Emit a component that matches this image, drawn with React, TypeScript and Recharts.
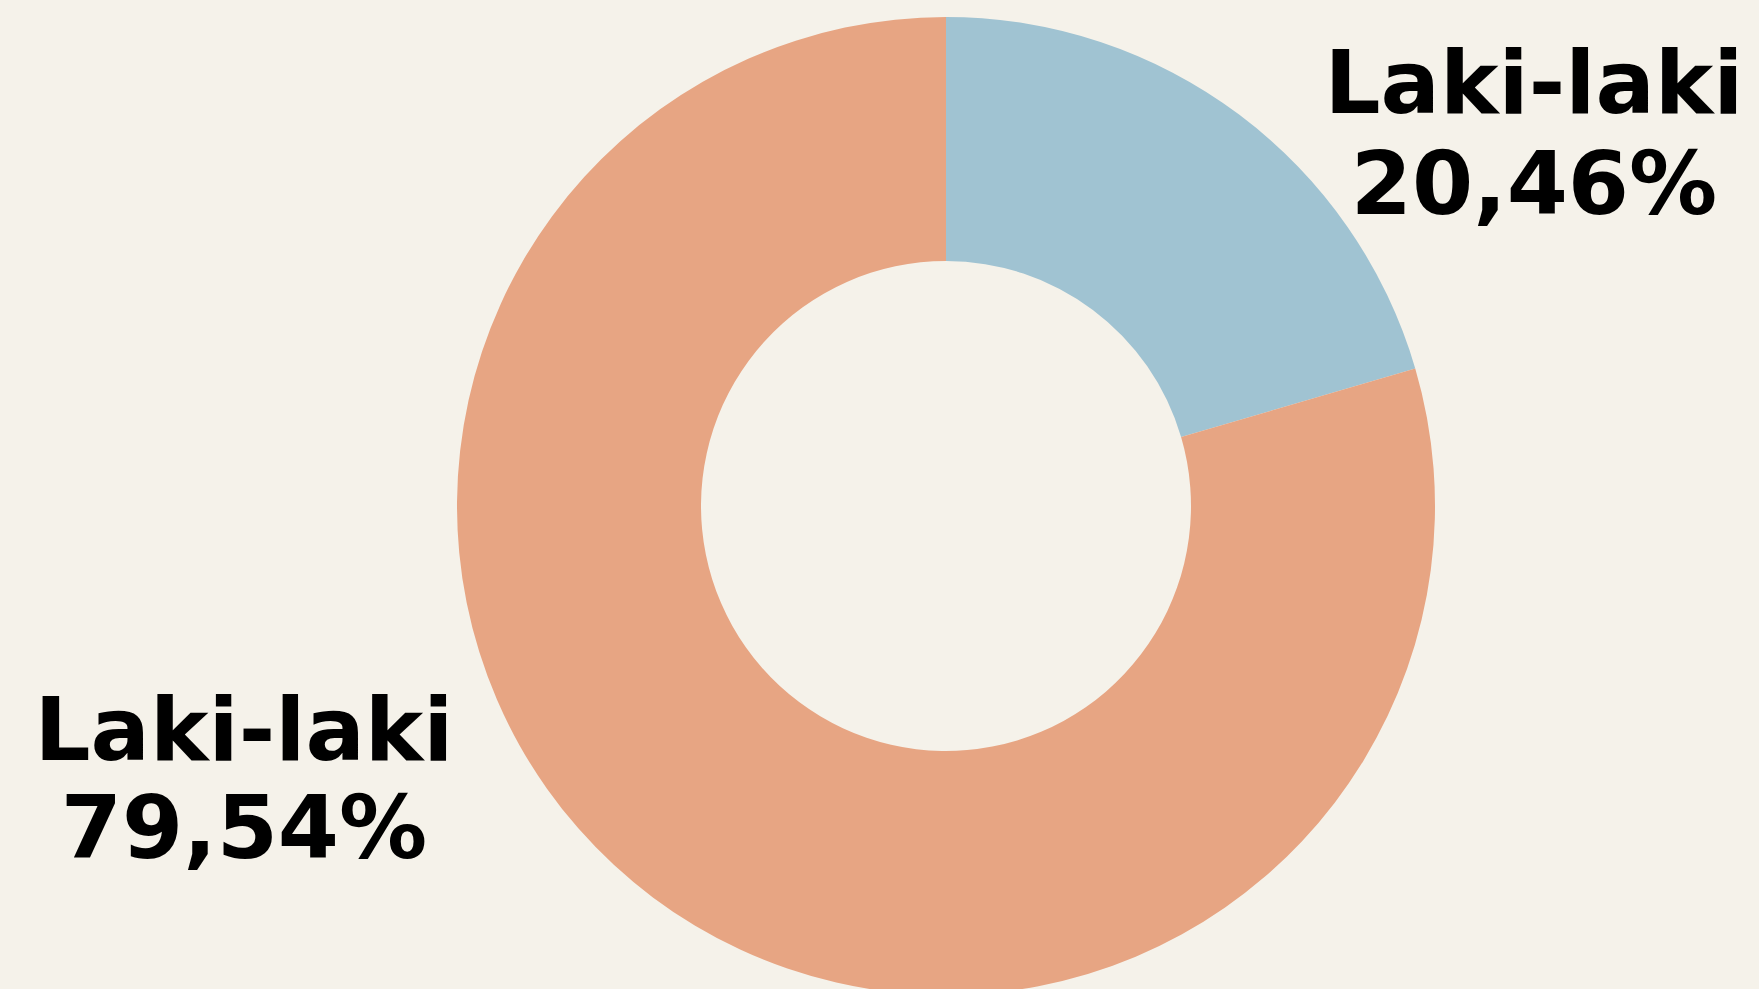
import { PieChart, Pie, Cell } from 'recharts'

const LABELS = ['Laki-laki', 'Laki-laki']
const VALUES = [20.46, 79.54]
const PERCENT_TEXT = ['20,46%', '79,54%']
const COLORS = ['#A0C3D2', '#E7A583']

// label anchor offsets from the pie centre (x, first baseline, second baseline)
const LABEL_OFFSETS = [
  { dx: 588, y1: -393, y2: -292 },
  { dx: -702, y1: 254, y2: 352 },
]

const data = LABELS.map((name, i) => ({ name, value: VALUES[i] }))

const W = 1759
const H = 989

function renderLabel(props: any) {
  const { cx, cy, index } = props
  const o = LABEL_OFFSETS[index]
  if (!o) return null
  return (
    <g key={`lbl-${index}`} fill="#000" fontSize={88} fontWeight="bold" fontFamily="'Comic Sans MS', 'DejaVu Sans', sans-serif">
      <text x={cx + o.dx} y={cy + o.y1} textAnchor="middle">{LABELS[index]}</text>
      <text x={cx + o.dx} y={cy + o.y2} textAnchor="middle">{PERCENT_TEXT[index]}</text>
    </g>
  )
}

export default function App() {
  return (
    <div style={{ position: 'absolute', left: 0, top: 0, width: W, height: H, background: '#F5F2EA', overflow: 'hidden' }}>
      <PieChart width={W} height={H} margin={{ top: 0, right: 0, bottom: 0, left: 0 }}>
        <Pie
          data={data}
          dataKey="value"
          nameKey="name"
          cx={946}
          cy={506}
          innerRadius={245}
          outerRadius={489}
          startAngle={90}
          endAngle={-270}
          stroke="none"
          label={renderLabel}
          labelLine={false}
          isAnimationActive={false}
        >
          {data.map((_, i) => (
            <Cell key={i} fill={COLORS[i]} />
          ))}
        </Pie>
      </PieChart>
    </div>
  )
}
